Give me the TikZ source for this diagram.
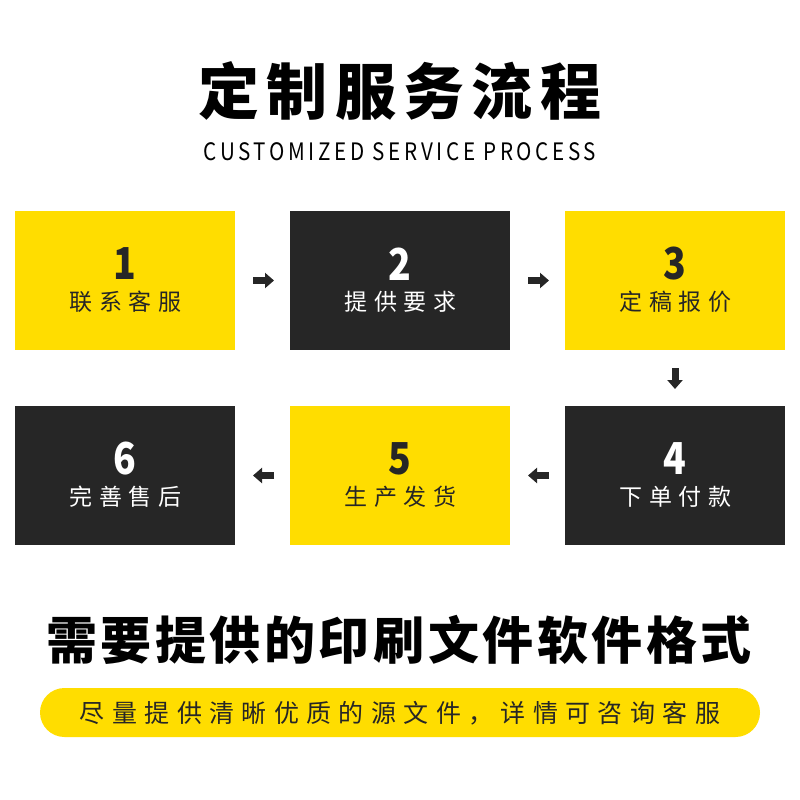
\documentclass[tikz,border=0pt]{standalone}
\usepackage{fontspec}
\setmainfont{Noto Sans CJK SC}
\usetikzlibrary{arrows.meta}
\definecolor{ylw}{HTML}{FFDD00}
\definecolor{drk}{HTML}{262626}
\newcommand{\numfmt}[1]{\scalebox{0.85}[1]{#1}}
\tikzset{
  box/.style={minimum width=220pt,minimum height=139pt,inner sep=0pt,outer sep=0pt},
  ybox/.style={box,fill=ylw},
  dbox/.style={box,fill=drk},
  numtxt/.style={font=\fontsize{44}{44}\selectfont\bfseries,inner sep=0pt},
  labtxt/.style={font=\fontsize{23}{23}\selectfont\addfontfeature{LetterSpace=28},inner sep=0pt},
  flow/.style={draw=drk,line width=7pt,-{Triangle[width=15pt,length=9pt]}},
}
\begin{document}
\begin{tikzpicture}[x=1pt,y=-1pt]
\useasboundingbox[fill=white] (0,0) rectangle (800,800);
% title
\node[inner sep=0pt,font=\fontsize{61}{61}\selectfont\bfseries\addfontfeature{LetterSpace=12}] (title) at (400,91) {定制服务流程};
\node[inner sep=0pt,font=\fontsize{24}{24}\selectfont\addfontfeature{LetterSpace=17.5}] (sub) at (400,152) {\scalebox{0.86}[1]{CUSTOMIZED SERVICE PROCESS}};
% boxes
\node[ybox] (b1) at (125,280.5) {};
\node[dbox] (b2) at (400,280.5) {};
\node[ybox] (b3) at (675,280.5) {};
\node[dbox] (b4) at (675,475.5) {};
\node[ybox] (b5) at (400,475.5) {};
\node[dbox] (b6) at (125,475.5) {};
% numbers and labels
\node[numtxt,text=drk] (n1) at (125,264) {\numfmt{1}};
\node[labtxt,text=drk] (l1) at (125.5,302) {联系客服};
\node[numtxt,text=white] (n2) at (400,264) {\numfmt{2}};
\node[labtxt,text=white] (l2) at (400.5,302) {提供要求};
\node[numtxt,text=drk] (n3) at (675,264) {\numfmt{3}};
\node[labtxt,text=drk] (l3) at (675.5,302) {定稿报价};
\node[numtxt,text=white] (n4) at (675,459) {\numfmt{4}};
\node[labtxt,text=white] (l4) at (675.5,497) {下单付款};
\node[numtxt,text=drk] (n5) at (400,459) {\numfmt{5}};
\node[labtxt,text=drk] (l5) at (400.5,497) {生产发货};
\node[numtxt,text=white] (n6) at (125,459) {\numfmt{6}};
\node[labtxt,text=white] (l6) at (125.5,497) {完善售后};
% arrows
\draw[flow,shorten <=18pt,shorten >=16pt] (b1.east) -- (b2.west);
\draw[flow,shorten <=18pt,shorten >=16pt] (b2.east) -- (b3.west);
\draw[flow,shorten <=18pt,shorten >=17pt] (b3.south) -- (b4.north);
\draw[flow,shorten <=16pt,shorten >=18pt] (b4.west) -- (b5.east);
\draw[flow,shorten <=16pt,shorten >=18pt] (b5.west) -- (b6.east);
% heading 2
\node[inner sep=0pt,font=\fontsize{51}{51}\selectfont\bfseries\addfontfeature{LetterSpace=7}] (h2) at (399,640) {需要提供的印刷文件软件格式};
% pill
\fill[ylw,rounded corners=24.5pt] (40,688) rectangle (760,737);
\node[inner sep=0pt,text=drk,font=\fontsize{25}{25}\selectfont\addfontfeature{LetterSpace=29.5}] (pill) at (400,713) {尽量提供清晰优质的源文件，详情可咨询客服};
\end{tikzpicture}
\end{document}
